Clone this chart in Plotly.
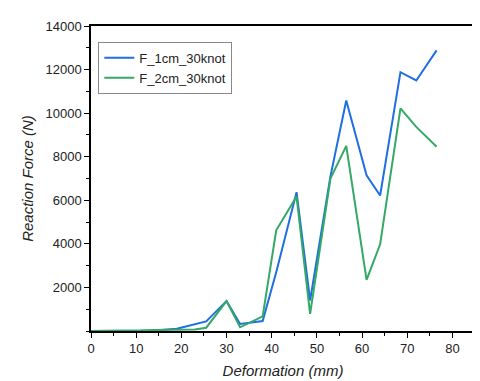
#!/usr/bin/env python3
"""Reaction force vs deformation for two fender configurations."""

import plotly.graph_objects as go

# deformation (mm), shared by both series
deformation = [0, 6, 11, 14, 19, 23, 25.5, 30, 33, 38, 41, 45.5, 48.5, 53, 56.5, 61, 64, 68.5, 72, 76.5]
force_1cm = [0, 0, 0, 20, 100, 310, 440, 1370, 320, 460, 2700, 6370, 1400, 7100, 10580, 7150, 6220, 11880, 11500, 12880]
force_2cm = [0, 0, 20, 50, 60, 70, 150, 1370, 170, 670, 4620, 6170, 790, 7000, 8500, 2350, 3980, 10220, 9370, 8460]

x_ticks = [0, 10, 20, 30, 40, 50, 60, 70, 80]
y_ticks = [2000, 4000, 6000, 8000, 10000, 12000, 14000]

series = [
    ("F_1cm_30knot", force_1cm, "#1f6fe0"),
    ("F_2cm_30knot", force_2cm, "#34a865"),
]

FONT = "Arial, Liberation Sans, sans-serif"

fig = go.Figure()
for name, values, color in series:
    fig.add_trace(
        go.Scatter(
            x=deformation,
            y=values,
            mode="lines",
            name=name,
            line=dict(color=color, width=2),
        )
    )

axis_common = dict(
    showline=True,
    linecolor="black",
    linewidth=1.5,
    mirror=True,
    showgrid=False,
    zeroline=False,
    ticks="outside",
    ticklen=5,
    tickwidth=1.2,
    tickcolor="black",
    tickfont=dict(family=FONT, size=13, color="#222"),
)

fig.update_xaxes(
    range=[0, 85],
    tickvals=x_ticks,
    ticktext=[str(v) for v in x_ticks],
    minor=dict(ticks="outside", ticklen=3, tickcolor="black", dtick=5, tick0=0),
    title=dict(text="<i>Deformation (mm)</i>", font=dict(family=FONT, size=15, color="#222"), standoff=10),
    **axis_common,
)
fig.update_yaxes(
    range=[0, 14000],
    tickvals=y_ticks,
    ticktext=[str(v) for v in y_ticks],
    minor=dict(ticks="outside", ticklen=3, tickcolor="black", dtick=1000, tick0=0),
    title=dict(text="<i>Reaction Force (N)</i>", font=dict(family=FONT, size=15, color="#222"), standoff=8),
    **axis_common,
)

fig.update_layout(
    width=480,
    height=381,
    margin=dict(l=83, r=11, t=14, b=58),
    paper_bgcolor="white",
    plot_bgcolor="white",
    showlegend=True,
    legend=dict(
        x=0.019,
        y=0.948,
        xanchor="left",
        yanchor="top",
        bgcolor="white",
        bordercolor="#888",
        borderwidth=1,
        font=dict(family=FONT, size=13, color="#222"),
        tracegroupgap=0,
        itemwidth=30,
    ),
)

fig.write_html("out.html")
